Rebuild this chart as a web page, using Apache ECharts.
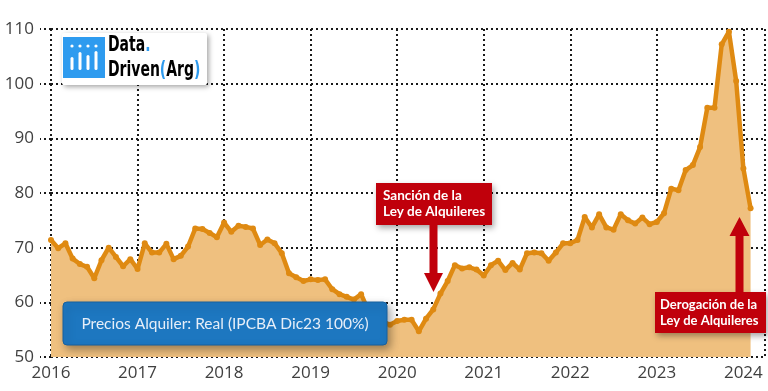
<!DOCTYPE html>
<html><head><meta charset="utf-8">
<script src="https://cdn.jsdelivr.net/npm/echarts@6/dist/echarts.min.js"></script>
<style>html,body{margin:0;padding:0;background:#fff}#c{width:768px;height:391px}</style>
</head><body><div id="c"></div>
<script>
const yearLabels = [2016, 2017, 2018, 2019, 2020, 2021, 2022, 2023, 2024];
const yTicks = [50, 60, 70, 80, 90, 100, 110];
const v2016 = [71.4, 69.9, 70.8, 68.0, 67.0, 66.5, 64.4, 67.7, 70.0, 68.3, 66.6, 67.9];
const v2017 = [66.1, 70.8, 69.1, 69.1, 70.7, 67.9, 68.5, 70.2, 73.5, 73.4, 72.7, 71.9];
const v2018 = [74.6, 72.9, 74.0, 73.8, 73.5, 70.5, 71.5, 70.8, 69.0, 65.3, 64.6, 63.9];
const v2019 = [64.2, 64.1, 64.2, 62.4, 61.5, 61.0, 60.5, 61.5, 58.5, 57.2, 56.5, 55.9];
const v2020 = [56.6, 56.8, 56.8, 54.7, 57.0, 58.7, 61.6, 63.9, 66.8, 66.2, 66.4, 66.0];
const v2021 = [64.9, 66.8, 67.6, 65.9, 67.2, 66.0, 69.0, 69.1, 69.0, 67.6, 69.1, 70.8];
const v2022 = [70.8, 71.4, 75.6, 73.7, 76.1, 73.7, 73.3, 76.1, 75.0, 74.4, 75.5, 74.3];
const v2023 = [74.7, 76.3, 80.8, 80.5, 84.2, 85.1, 88.4, 95.6, 95.6, 107.2, 109.5, 100.5];
const v2024 = [84.5, 77.2];
const seriesByYear = [v2016, v2017, v2018, v2019, v2020, v2021, v2022, v2023, v2024];
const legendText = 'Precios Alquiler: Real (IPCBA Dic23 100%)';
const note1 = 'Sanción de la\nLey de Alquileres';
const note2 = 'Derogación de la\nLey de Alquileres';

const data = [];
seriesByYear.forEach((arr, yi) => {
  arr.forEach((v, m) => data.push([yearLabels[yi] + m / 12, v]));
});

const dotted = { color: '#1a1a1a', width: 2, type: [2, 3] };
const red = '#C0000B';
const logoFont = '"DejaVu Sans Condensed", "DejaVu Sans", sans-serif';
const chart = echarts.init(document.getElementById('c'), null, { renderer: 'canvas' });
chart.setOption({
  animation: false,
  backgroundColor: '#fff',
  grid: { left: 51, right: 0, top: 29, bottom: 34, containLabel: false },
  xAxis: {
    type: 'value', min: yearLabels[0], max: 2024.25, interval: 1,
    axisLine: { show: false }, axisTick: { show: false },
    axisLabel: {
      color: '#404040', fontSize: 17, fontFamily: 'Open Sans', margin: 8,
      formatter: v => (Number.isInteger(v) && yearLabels.includes(v)) ? String(v) : ''
    },
    splitLine: { show: true, lineStyle: dotted }
  },
  yAxis: {
    type: 'value', min: yTicks[0], max: yTicks[yTicks.length - 1], interval: 10,
    axisLine: { show: false },
    axisTick: { show: true, length: 11, lineStyle: dotted },
    axisLabel: { color: '#404040', fontSize: 17, fontFamily: 'Open Sans', margin: 17 },
    splitLine: { show: true, lineStyle: dotted }
  },
  series: [{
    type: 'line', data: data, smooth: false,
    symbol: 'circle', symbolSize: 6, showAllSymbol: true,
    itemStyle: { color: '#DF8A12' },
    lineStyle: { color: '#DF8A12', width: 4.5 },
    areaStyle: { color: '#EFC07F', opacity: 1, origin: 'start' },
    z: 3
  }],
  graphic: [
    // logo
    { type: 'rect', z: 100, shape: { x: 62, y: 33, width: 145, height: 52, r: 2 },
      style: { fill: '#fff', shadowBlur: 5, shadowOffsetX: 2, shadowOffsetY: 2, shadowColor: 'rgba(0,0,0,0.35)' } },
    { type: 'rect', z: 101, shape: { x: 63, y: 37, width: 42, height: 41 }, style: { fill: '#2E9BEF' } },
    { type: 'circle', z: 102, shape: { cx: 72, cy: 46, r: 1.6 }, style: { fill: '#fff' } },
    { type: 'circle', z: 102, shape: { cx: 80, cy: 46, r: 1.6 }, style: { fill: '#fff' } },
    { type: 'circle', z: 102, shape: { cx: 88, cy: 46, r: 1.6 }, style: { fill: '#fff' } },
    { type: 'circle', z: 102, shape: { cx: 96, cy: 46, r: 1.6 }, style: { fill: '#fff' } },
    { type: 'rect', z: 102, shape: { x: 70.5, y: 57, width: 3, height: 13, r: 1.5 }, style: { fill: '#fff' } },
    { type: 'rect', z: 102, shape: { x: 78.5, y: 52, width: 3, height: 18, r: 1.5 }, style: { fill: '#fff' } },
    { type: 'rect', z: 102, shape: { x: 86.5, y: 55, width: 3, height: 15, r: 1.5 }, style: { fill: '#fff' } },
    { type: 'rect', z: 102, shape: { x: 94.5, y: 51, width: 3, height: 19, r: 1.5 }, style: { fill: '#fff' } },
    { type: 'text', z: 102, x: 108, y: 33, scaleX: 0.74, originX: 0, originY: 0,
      style: { text: '{k|Data}{b|.}\n{k|Driven}{b|(}{k|Arg}{b|)}', lineHeight: 25,
        rich: {
          k: { fill: '#000', fontFamily: logoFont, fontWeight: 'bold', fontSize: 21, lineHeight: 25 },
          b: { fill: '#2E9BEF', fontFamily: logoFont, fontWeight: 'bold', fontSize: 21, lineHeight: 25 }
        } } },
    // legend box
    { type: 'rect', z: 100, shape: { x: 63, y: 302, width: 324, height: 43, r: 4 },
      style: { fill: '#1D77C0', stroke: '#16609e', lineWidth: 1, shadowBlur: 8, shadowOffsetX: 3, shadowOffsetY: 4, shadowColor: 'rgba(0,0,0,0.35)' } },
    { type: 'text', z: 101, x: 225, y: 324,
      style: { text: legendText, fill: '#E6EEF8', fontFamily: 'Lato', fontSize: 15.5, align: 'center', verticalAlign: 'middle' } },
    // annotation 1
    { type: 'rect', z: 100, shape: { x: 376, y: 183, width: 116, height: 42 },
      style: { fill: red, shadowBlur: 6, shadowOffsetX: 2, shadowOffsetY: 3, shadowColor: 'rgba(0,0,0,0.35)' } },
    { type: 'text', z: 101, x: 383, y: 188,
      style: { text: note1, fill: '#fff', fontFamily: 'Lato', fontWeight: 'bold', fontSize: 13.5, lineHeight: 16 } },
    { type: 'polygon', z: 100, shape: { points: [[429.5, 225], [437.5, 225], [437.5, 273], [443, 273], [433.5, 292], [424, 273], [429.5, 273]] },
      style: { fill: red } },
    // annotation 2
    { type: 'rect', z: 100, shape: { x: 655, y: 292, width: 111, height: 41 },
      style: { fill: red, shadowBlur: 6, shadowOffsetX: 2, shadowOffsetY: 3, shadowColor: 'rgba(0,0,0,0.35)' } },
    { type: 'text', z: 101, x: 660, y: 297,
      style: { text: note2, fill: '#fff', fontFamily: 'Lato', fontWeight: 'bold', fontSize: 13, lineHeight: 16 } },
    { type: 'polygon', z: 100, shape: { points: [[735.5, 292], [743.5, 292], [743.5, 236], [749.5, 236], [739.5, 217], [729.5, 236], [735.5, 236]] },
      style: { fill: red } }
  ]
});
</script></body></html>
